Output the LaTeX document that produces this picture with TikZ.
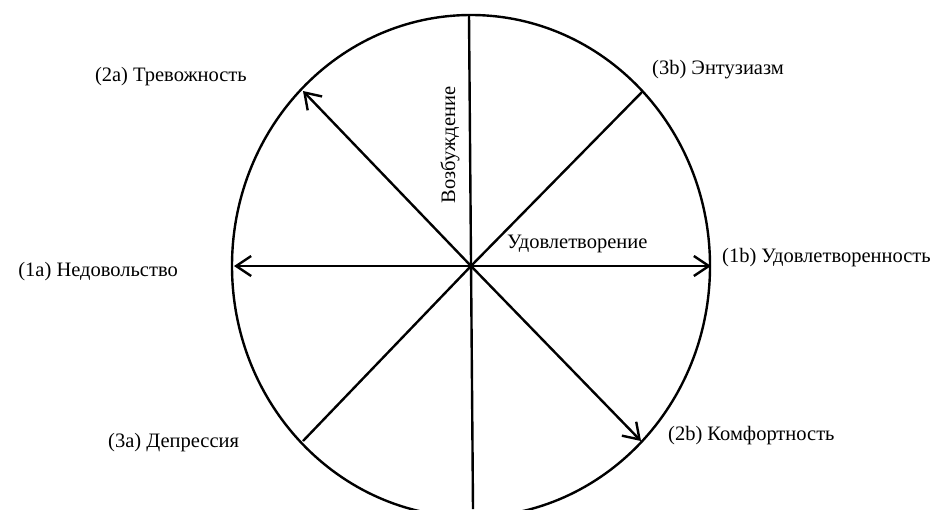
\documentclass[tikz,border=0pt]{standalone}
\usepackage{fontspec}
\setmainfont{Liberation Serif}
\usepackage{tikz}
\usetikzlibrary{positioning,calc,arrows.meta}

\begin{document}
\begin{tikzpicture}[x=1pt,y=-1pt,
    axis/.style={line width=2.4pt},
    arr/.style={axis,-{Straight Barb[length=15pt,width=20pt,line width=2.4pt]}},
    lbl/.style={font=\fontsize{20.5}{25}\selectfont,inner sep=0pt}]
    \useasboundingbox (0,0) rectangle (944,509);
    \coordinate (o) at (471,266);
    % circle
    \draw[axis] (o) ellipse [x radius=239, y radius=251];
    % plain sectors
    \coordinate (top) at (469,15);
    \coordinate (bot) at (473,509);
    \coordinate (ne) at (643,91);
    \coordinate (sw) at (303,441);
    \draw[axis] (top) -- (bot);
    \foreach \p in {ne,sw} {
        \draw[axis] (o) -- (\p);
    }
    % arrows
    \coordinate (w) at (234,266);
    \coordinate (e) at (711,266);
    \coordinate (nw) at (303,91);
    \coordinate (se) at (641,441);
    \foreach \p in {w,e,nw,se} {
        \draw[arr] (o) -- (\p);
    }
    % labels
    \node[lbl,anchor=east] (l2a) at (247,77) {(2a) Тревожность};
    \node[lbl,anchor=west] (l3b) at (652,70) {(3b) Энтузиазм};
    \node[lbl,anchor=east] (l1a) at (178,272) {(1a) Недовольство};
    \node[lbl,anchor=west] (l1b) at (722,258) {(1b) Удовлетворенность};
    \node[lbl,anchor=west] (l3a) at (108,443) {(3a) Депрессия};
    \node[lbl,anchor=west] (l2b) at (668,436) {(2b) Комфортность};
    \node[lbl,anchor=west] (sat) at (507,244) {Удовлетворение};
    \node[lbl,rotate=90] (exc) at (450,145) {Возбуждение};
\end{tikzpicture}
\end{document}
